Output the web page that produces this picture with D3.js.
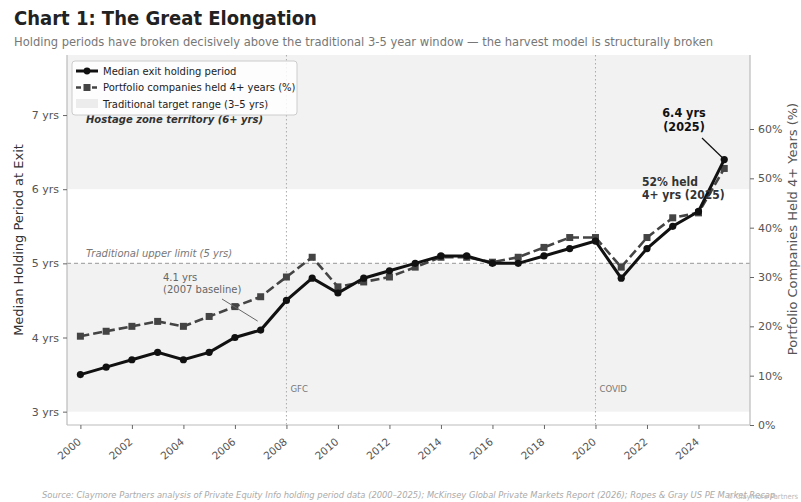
<!DOCTYPE html>
<html>
<head>
<meta charset="utf-8">
<script src="https://cdn.jsdelivr.net/npm/d3@7"></script>
<style>
  body { margin: 0; background: #fff; }
  svg { font-family: "DejaVu Sans", sans-serif; }
</style>
</head>
<body>
<svg width="801" height="502"></svg>
<script>
// data
const years = d3.range(2000, 2026);
const medianYears = [3.5, 3.6, 3.7, 3.8, 3.7, 3.8, 4.0, 4.1, 4.5, 4.8, 4.6, 4.8, 4.9,
  5.0, 5.1, 5.1, 5.0, 5.0, 5.1, 5.2, 5.3, 4.8, 5.2, 5.5, 5.7, 6.4];
const heldPct = [18, 19, 20, 21, 20, 22, 24, 26, 30, 34, 28, 29, 30,
  32, 34, 34, 33, 34, 36, 38, 38, 32, 38, 42, 43, 52];
const xTicks = d3.range(2000, 2025, 2);
const leftTicks = [3, 4, 5, 6, 7];
const rightTicks = [0, 10, 20, 30, 40, 50, 60];
const events = [{ year: 2008, label: "GFC" }, { year: 2020, label: "COVID" }];

const svg = d3.select("svg");
const margin = { top: 55, right: 51, bottom: 77, left: 67 };
const W = 801, H = 502;
const cond = "DejaVu Sans Condensed, DejaVu Sans";

const x = d3.scaleLinear().domain([1999.48, 2026]).range([margin.left, W - margin.right]);
const y = d3.scaleLinear().domain([2.82, 7.81]).range([H - margin.bottom, margin.top]);
const y2 = d3.scaleLinear().domain([0, 75]).range([H - margin.bottom, margin.top]);

const x0 = margin.left, x1 = W - margin.right;
const band = "#f2f2f2";

// shaded zones: 3-5 yrs target range and 6+ hostage zone
svg.append("rect").attr("x", x0).attr("width", x1 - x0)
  .attr("y", y(5)).attr("height", y(3) - y(5)).attr("fill", band);
svg.append("rect").attr("x", x0).attr("width", x1 - x0)
  .attr("y", y(7.81)).attr("height", y(6) - y(7.81)).attr("fill", band);

// 5 yr limit
svg.append("line").attr("x1", x0).attr("x2", x1).attr("y1", y(5)).attr("y2", y(5))
  .attr("stroke", "#aaa").attr("stroke-width", 1.2).attr("stroke-dasharray", "4,3");
svg.append("text").attr("x", 86).attr("y", y(5) - 6)
  .attr("font-size", 10).attr("font-style", "italic").attr("fill", "#777")
  .text("Traditional upper limit (5 yrs)");

// events
events.forEach(e => {
  svg.append("line").attr("x1", x(e.year)).attr("x2", x(e.year))
    .attr("y1", margin.top).attr("y2", H - margin.bottom)
    .attr("stroke", "#aaa").attr("stroke-width", 1).attr("stroke-dasharray", "1.5,2.5");
  svg.append("text").attr("x", x(e.year) + 4).attr("y", 392)
    .attr("font-size", 9.5).attr("fill", "#777").attr("font-family", cond).text(e.label);
});

// axes
const gx = svg.append("g").attr("transform", `translate(0,${H - margin.bottom})`)
  .call(d3.axisBottom(x).tickValues(xTicks).tickFormat(d3.format("d")).tickSize(4));

const gy = svg.append("g").attr("transform", `translate(${x0},0)`)
  .call(d3.axisLeft(y).tickValues(leftTicks).tickFormat(d => d + " yrs").tickSize(4).tickPadding(4));
const gy2 = svg.append("g").attr("transform", `translate(${x1},0)`)
  .call(d3.axisRight(y2).tickValues(rightTicks).tickFormat(d => d + "%").tickSize(4).tickPadding(4));

[gx, gy, gy2].forEach(g => {
  g.select(".domain").attr("stroke", "#bbb").attr("stroke-width", 1.2);
  g.selectAll(".tick line").attr("stroke", "#666");
  g.selectAll("text").attr("font-size", 11).attr("fill", "#555")
    .attr("font-family", "DejaVu Sans");
});
gx.selectAll(".tick text").attr("font-size", 10.5)
  .attr("text-anchor", "end").attr("x", 0).attr("y", 0).attr("dy", 0)
  .attr("transform", "translate(1,18) rotate(-40)");
gx.select(".domain").attr("d", `M${x0},0H${x1}`);
gy.select(".domain").attr("d", `M0,${margin.top}V${H - margin.bottom}`);
gy2.select(".domain").attr("d", `M0,${margin.top}V${H - margin.bottom}`);

svg.append("text").attr("transform", `translate(23,${(margin.top + H - margin.bottom) / 2}) rotate(-90)`)
  .attr("text-anchor", "middle").attr("font-size", 13).attr("fill", "#333")
  .text("Median Holding Period at Exit");
svg.append("text").attr("transform", "translate(797,229) rotate(-90)")
  .attr("text-anchor", "middle").attr("font-size", 13).attr("fill", "#555")
  .text("Portfolio Companies Held 4+ Years (%)");

// series
const pctLine = d3.line().x((d, i) => x(years[i])).y(d => y2(d));
svg.append("path").datum(heldPct).attr("d", pctLine)
  .attr("fill", "none").attr("stroke", "#444").attr("stroke-width", 2.6)
  .attr("stroke-dasharray", "9,4");
svg.selectAll(".sq").data(heldPct).enter().append("rect").attr("class", "sq")
  .attr("x", (d, i) => x(years[i]) - 3.5).attr("y", d => y2(d) - 3.5)
  .attr("width", 7).attr("height", 7).attr("fill", "#444");

const medLine = d3.line().x((d, i) => x(years[i])).y(d => y(d));
svg.append("path").datum(medianYears).attr("d", medLine)
  .attr("fill", "none").attr("stroke", "#111").attr("stroke-width", 3);
svg.selectAll(".dot").data(medianYears).enter().append("circle").attr("class", "dot")
  .attr("cx", (d, i) => x(years[i])).attr("cy", d => y(d)).attr("r", 3.6).attr("fill", "#111");

// annotations
svg.append("text").attr("x", 86).attr("y", 123)
  .attr("font-size", 10).attr("font-weight", "bold").attr("font-style", "italic").attr("fill", "#333")
  .text("Hostage zone territory (6+ yrs)");

const last = years.length - 1;
svg.append("line").attr("x1", 702).attr("y1", 138)
  .attr("x2", x(years[last]) - 2).attr("y2", y(medianYears[last]) - 2)
  .attr("stroke", "#111").attr("stroke-width", 1.2);
const a1 = svg.append("text").attr("text-anchor", "middle").attr("font-size", 12.5)
  .attr("font-weight", "bold").attr("fill", "#111").attr("font-family", cond);
a1.append("tspan").attr("x", 684).attr("y", 117).text("6.4 yrs");
a1.append("tspan").attr("x", 684).attr("y", 131).text("(2025)");

const a2 = svg.append("text").attr("font-size", 12)
  .attr("font-weight", "bold").attr("fill", "#333").attr("font-family", cond);
a2.append("tspan").attr("x", 642).attr("y", 186).text("52% held");
a2.append("tspan").attr("x", 642).attr("y", 199).text("4+ yrs (2025)");

svg.append("line").attr("x1", 222).attr("y1", 299)
  .attr("x2", x(2007) - 3).attr("y2", y(4.1) - 9)
  .attr("stroke", "#666").attr("stroke-width", 1);
const a3 = svg.append("text").attr("font-size", 10).attr("fill", "#666");
a3.append("tspan").attr("x", 163).attr("y", 281).text("4.1 yrs");
a3.append("tspan").attr("x", 163).attr("y", 293).text("(2007 baseline)");

// legend
const lg = svg.append("g").attr("transform", "translate(72,61)");
lg.append("rect").attr("width", 225).attr("height", 54).attr("rx", 3)
  .attr("fill", "#fff").attr("fill-opacity", 0.85).attr("stroke", "#ccc");
lg.append("line").attr("x1", 4).attr("x2", 26).attr("y1", 10).attr("y2", 10)
  .attr("stroke", "#111").attr("stroke-width", 3);
lg.append("circle").attr("cx", 15).attr("cy", 10).attr("r", 3.4).attr("fill", "#111");
lg.append("line").attr("x1", 4).attr("x2", 26).attr("y1", 26.5).attr("y2", 26.5)
  .attr("stroke", "#444").attr("stroke-width", 2.6).attr("stroke-dasharray", "5,3");
lg.append("rect").attr("x", 11.5).attr("y", 23).attr("width", 7).attr("height", 7).attr("fill", "#444");
lg.append("rect").attr("x", 4).attr("y", 38).attr("width", 22).attr("height", 9).attr("fill", "#ececec");
const legendLabels = ["Median exit holding period", "Portfolio companies held 4+ years (%)", "Traditional target range (3\u20135 yrs)"];
lg.selectAll(".lt").data(legendLabels).enter().append("text").attr("class", "lt")
  .attr("x", 31).attr("y", (d, i) => 13.5 + i * 16.5)
  .attr("font-size", 10).attr("fill", "#222").text(d => d);

// title
svg.append("text").attr("x", 14).attr("y", 25).attr("font-size", 20).attr("font-weight", "bold")
  .attr("fill", "#222").attr("font-family", cond)
  .text("Chart 1: The Great Elongation");
svg.append("text").attr("x", 14).attr("y", 46).attr("font-size", 12.8).attr("fill", "#777")
  .attr("font-family", cond)
  .text("Holding periods have broken decisively above the traditional 3-5 year window \u2014 the harvest model is structurally broken");

svg.append("text").attr("x", 42).attr("y", 498).attr("font-size", 9.3).attr("font-style", "italic")
  .attr("fill", "#aaa").attr("font-family", cond)
  .text("Source: Claymore Partners analysis of Private Equity Info holding period data (2000\u20132025); McKinsey Global Private Markets Report (2026); Ropes & Gray US PE Market Recap");
svg.append("text").attr("x", 798).attr("y", 499).attr("text-anchor", "end").attr("font-size", 7.5)
  .attr("fill", "#bbb").attr("font-family", cond).text("\u00a9 Claymore Partners");
</script>
</body>
</html>
